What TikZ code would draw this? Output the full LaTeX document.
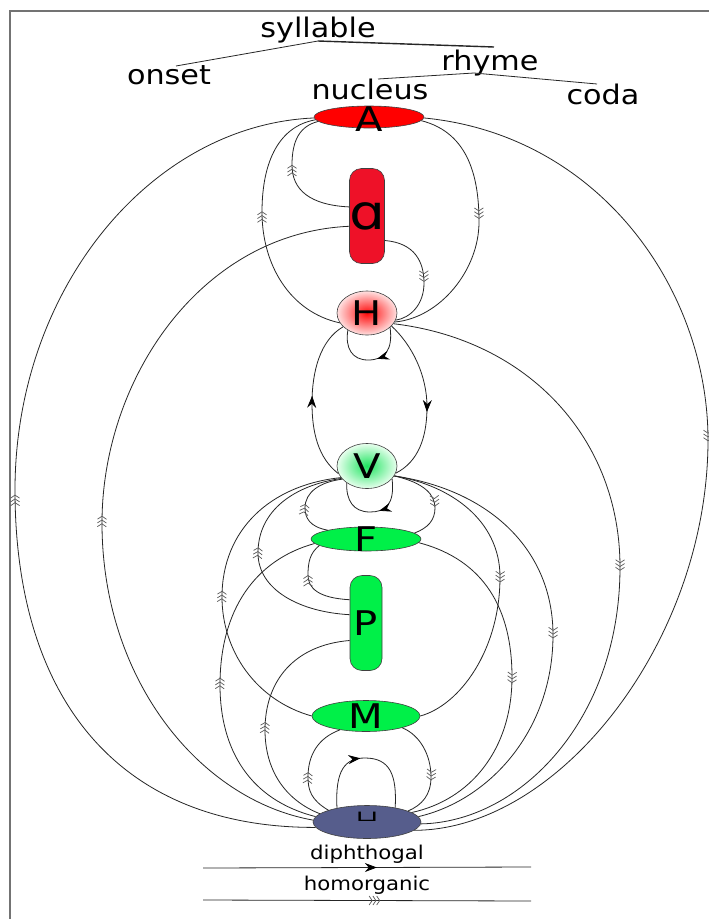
\documentclass[tikz,border=0pt]{standalone}
\usepackage{fontspec}
\usepackage{graphicx}
\setmainfont{DejaVu Sans}
\newfontfamily\lblfont[FakeStretch=1.12]{DejaVu Sans}
\newfontfamily\letfont[FakeStretch=1.18]{DejaVu Sans}
\usetikzlibrary{arrows.meta,decorations.markings,shapes.geometric}
\definecolor{ared}{RGB}{255,0,0}
\definecolor{alred}{RGB}{238,17,40}
\definecolor{ngreen}{RGB}{0,240,72}
\definecolor{ublue}{RGB}{86,93,140}
\definecolor{hin}{RGB}{255,10,10}
\definecolor{hout}{RGB}{255,225,225}
\definecolor{vin}{RGB}{30,228,95}
\definecolor{vout}{RGB}{232,255,238}
\begin{document}
\begin{tikzpicture}[x=1pt,y=-1pt,
  edge/.style={line width=0.8pt, draw=black!85},
  homo/.style={postaction={decorate,decoration={markings,mark=at position #1 with {\arrow[black!65,line width=0.7pt]{Straight Barb[length=3pt,width=9pt] Straight Barb[length=3pt,width=9pt] Straight Barb[length=3pt,width=9pt]}}}}},
  homo/.default=0.5,
  diph/.style={postaction={decorate,decoration={markings,mark=at position #1 with {\arrow[black]{Stealth[length=12pt,width=9pt,inset=4pt]}}}}},
  diph/.default=0.5,
  shapebase/.style={draw=black!75, line width=0.6pt, inner sep=0pt},
  ell/.style={shapebase, ellipse},
  pill/.style={shapebase, rectangle, rounded corners=12pt},
  letter/.style={font=\letfont\fontsize{34}{34}\selectfont, inner sep=0pt},
  hdr/.style={font=\lblfont\fontsize{27}{27}\selectfont, inner sep=0pt},
  leg/.style={font=\lblfont\fontsize{19}{19}\selectfont, inner sep=0pt},
  tree/.style={line width=0.8pt, draw=black!85},
  framel/.style={line width=1.2pt, draw=black!55}
]
\useasboundingbox (0,0) rectangle (709,919);
\fill[white] (0,0) rectangle (709,919);
\draw[framel] (10,919) -- (10,11) -- (709,11);

% header tree
\node[hdr, anchor=base] (syl) at (318,37) {syllable};
\node[hdr, anchor=base] (ons) at (169,84) {onset};
\node[hdr, anchor=base] (rhy) at (490,70) {rhyme};
\node[hdr, anchor=base] (nuc) at (370,99) {nucleus};
\node[hdr, anchor=base] (cod) at (603,104) {coda};
\coordinate (sylroot) at (318,41);
\coordinate (onsetend) at (176,66);
\coordinate (rhymeend) at (494,47);
\coordinate (rhyroot) at (474,73);
\coordinate (nucend) at (378,79);
\coordinate (codaend) at (597,84);
\draw[tree] (sylroot) -- (onsetend);
\draw[tree, line width=1.4pt] (sylroot) -- (rhymeend);
\draw[tree] (rhyroot) -- (nucend);
\draw[tree] (rhyroot) -- (codaend);

% nodes
\node[ell, fill=ared, minimum width=110pt, minimum height=22pt, label={[letter, yshift=-2pt]center:A}] (A) at (369,117) {};
\node[pill, fill=alred, minimum width=35pt, minimum height=95pt, label={[font=\letfont\fontsize{48}{48}\selectfont, inner sep=0pt]center:ɑ}] (al) at (367,216) {};
\node[ell, shade, shading=radial, inner color=hin, outer color=hout, minimum width=60pt, minimum height=44pt, label={[letter]center:H}] (H) at (367,313) {};
\node[ell, shade, shading=radial, inner color=vin, outer color=vout, minimum width=60pt, minimum height=45pt, label={[letter]center:V}] (V) at (367,466) {};
\node[ell, fill=ngreen, minimum width=110pt, minimum height=24pt, label={[letter]center:F}] (F) at (366,539) {};
\node[pill, fill=ngreen, minimum width=32pt, minimum height=95pt, label={[letter]center:P}] (P) at (366,623) {};
\node[ell, fill=ngreen, minimum width=108pt, minimum height=31pt, label={[letter]center:M}] (M) at (366,716) {};
\node[ell, fill=ublue, minimum width=108pt, minimum height=33pt, label={[inner sep=0pt, yshift=5pt, font=\fontsize{30}{30}\selectfont]center:\scalebox{1.0}[0.5]{⊔}}] (U) at (367,822) {};

% edges
\draw[edge, homo=0.49] (U.186) .. controls (120,828) and (15,700) .. (15,490) .. controls (15,290) and (150,125) .. (A.181);
\draw[edge, homo=0.47] (A.359) .. controls (600,135) and (708,290) .. (708,440) .. controls (708,640) and (560,830) .. (U.350);
\draw[edge, homo=0.46] (A.356) .. controls (470,133) and (479,180) .. (479,222) .. controls (479,270) and (440,318) .. (H.342);
\draw[edge, homo=0.56] (H.200) .. controls (290,312) and (262,265) .. (262,212) .. controls (262,160) and (280,126) .. (A.183);
\draw[edge, homo=0.59] (al.153) .. controls (310,205) and (292,190) .. (292,165) .. controls (292,140) and (300,126) .. (A.185);
\draw[edge, homo=0.49] (U.178) .. controls (200,800) and (102,680) .. (102,523) .. controls (102,380) and (200,233) .. (al.210);
\draw[edge, homo=0.55] (al.306) .. controls (415,243) and (424,262) .. (424,283) .. controls (424,305) and (410,318) .. (H.346);
\draw[edge, diph=0.52] (V.195) .. controls (318,458) and (312,432) .. (312,403) .. controls (312,372) and (320,340) .. (H.210);
\draw[edge, diph=0.57] (H.332) .. controls (412,345) and (427,375) .. (427,407) .. controls (427,438) and (418,462) .. (V.346);
\draw[edge, diph=0.42] (H.328) .. controls (393,350) and (385,360) .. (368,360) .. controls (352,360) and (345,348) .. (H.222);
\draw[edge, diph=0.42] (V.333) .. controls (395,505) and (385,512) .. (370,512) .. controls (353,512) and (346,500) .. (V.220);
\draw[edge, homo=0.6] (V.340) .. controls (425,483) and (435,495) .. (435,508) .. controls (435,520) and (428,528) .. (F.7);
\draw[edge, homo=0.45] (F.167) .. controls (310,527) and (305,518) .. (305,508) .. controls (305,492) and (320,482) .. (V.208);
\draw[edge, homo=0.62] (P.125) .. controls (318,598) and (308,588) .. (308,575) .. controls (308,562) and (310,553) .. (F.188);
\draw[edge, homo=0.52] (P.153) .. controls (300,612) and (258,590) .. (258,553) .. controls (258,510) and (295,485) .. (V.206);
\draw[edge, homo=0.48] (M.west) .. controls (255,700) and (222,650) .. (222,597) .. controls (222,530) and (270,485) .. (V.204);
\draw[edge, homo=0.51] (U.174) .. controls (250,800) and (220,750) .. (220,685) .. controls (220,610) and (255,560) .. (F.185);
\draw[edge, homo=0.47] (U.170) .. controls (285,800) and (265,770) .. (265,730) .. controls (265,680) and (295,645) .. (P.227);
\draw[edge, homo=0.45] (U.163) .. controls (311,800) and (308,790) .. (308,777) .. controls (308,755) and (318,738) .. (M.208);
\draw[edge, diph=0.46] (U.155) .. controls (335,770) and (345,758) .. (365,758) .. controls (390,758) and (397,775) .. (U.27);
\draw[edge, homo=0.61] (M.342) .. controls (420,735) and (431,755) .. (431,777) .. controls (431,795) and (422,805) .. (U.15);
\draw[edge, homo=0.5] (V.340) .. controls (450,485) and (500,520) .. (500,577) .. controls (500,650) and (460,705) .. (M.east);
\draw[edge, homo=0.51] (V.340) .. controls (490,490) and (553,550) .. (553,635) .. controls (553,730) and (490,800) .. (U.6);
\draw[edge, homo=0.51] (F.356) .. controls (485,560) and (512,610) .. (512,677) .. controls (512,750) and (470,800) .. (U.12);
\draw[edge, homo=0.51] (H.338) .. controls (530,340) and (620,440) .. (620,567) .. controls (620,720) and (520,822) .. (U.358);

% legend
\node[leg, anchor=base] (dl) at (367,859) {diphthogal};
\node[leg, anchor=base] (hl) at (367,890) {homorganic};
\coordinate (l1a) at (203,868);
\coordinate (l1b) at (531,867);
\coordinate (l2a) at (203,900);
\coordinate (l2b) at (531,901);
\draw[edge, diph=0.53] (l1a) -- (l1b);
\draw[edge, homo=0.54] (l2a) -- (l2b);
\end{tikzpicture}
\end{document}
